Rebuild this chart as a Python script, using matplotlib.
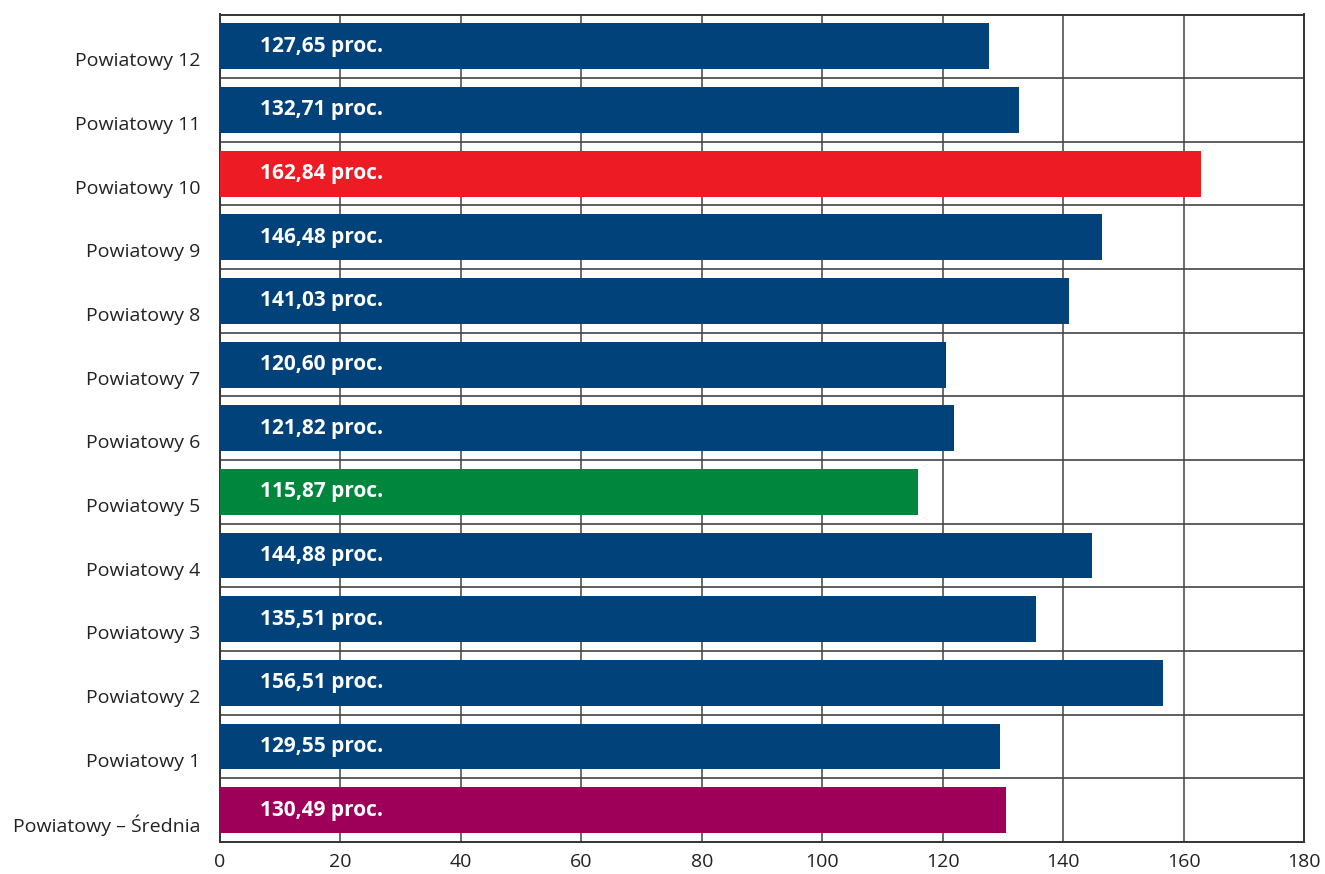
import matplotlib
matplotlib.use("Agg")
import matplotlib.pyplot as plt
import matplotlib.transforms as mtransforms
import numpy as np

plt.rcParams['font.family'] = ['Open Sans', 'DejaVu Sans']

# data, bottom to top
categories = ["Powiatowy – Średnia", "Powiatowy 1", "Powiatowy 2", "Powiatowy 3",
              "Powiatowy 4", "Powiatowy 5", "Powiatowy 6", "Powiatowy 7",
              "Powiatowy 8", "Powiatowy 9", "Powiatowy 10", "Powiatowy 11",
              "Powiatowy 12"]
values = [130.49, 129.55, 156.51, 135.51, 144.88, 115.87, 121.82, 120.60,
          141.03, 146.48, 162.84, 132.71, 127.65]
NAVY, RED, GREEN, PURPLE = "#02427a", "#ed1c24", "#00873d", "#9e0059"
colors = [PURPLE] + [NAVY] * 4 + [GREEN] + [NAVY] * 4 + [RED] + [NAVY] * 2
xticks = [0, 20, 40, 60, 80, 100, 120, 140, 160, 180]

fig = plt.figure(figsize=(13.25, 8.74), dpi=100)
ax = fig.add_axes([220/1325, 1-842/874, (1304-220)/1325, (842-14.5)/874])

y = np.arange(len(categories))
ax.barh(y, values, height=0.72, color=colors, zorder=3)
for yi, v in zip(y, values):
    ax.text(6.7, yi, f"{v:.2f}".replace(".", ",") + " proc.", color="white",
            fontsize=15, fontweight="bold", va="center", ha="left", zorder=4)

ax.set_xlim(0, 180)
ax.set_ylim(-0.5, len(categories) - 0.5)
ax.set_xticks(xticks)
ax.set_xticklabels([str(t) for t in xticks], fontsize=14, color="#222222")
ax.set_yticks(y)
ax.set_yticklabels(categories, fontsize=14, color="#222222")
ax.tick_params(length=0)
ax.tick_params(axis="y", pad=14)
ax.tick_params(axis="x", pad=8)

# push category labels slightly below bar centres
off = mtransforms.ScaledTranslation(0, -13/100, fig.dpi_scale_trans)
for lab in ax.get_yticklabels():
    lab.set_transform(lab.get_transform() + off)

for xv in xticks[1:-1]:
    ax.axvline(xv, color="#6a6a6a", lw=1.4, zorder=1)
for yb in np.arange(0.5, len(categories) - 1, 1.0):
    ax.axhline(yb, color="#444444", lw=1.2, zorder=1)
for s in ax.spines.values():
    s.set_color("#333333")
    s.set_linewidth(1.4)

fig.savefig("out.png", dpi=100, facecolor="white")
